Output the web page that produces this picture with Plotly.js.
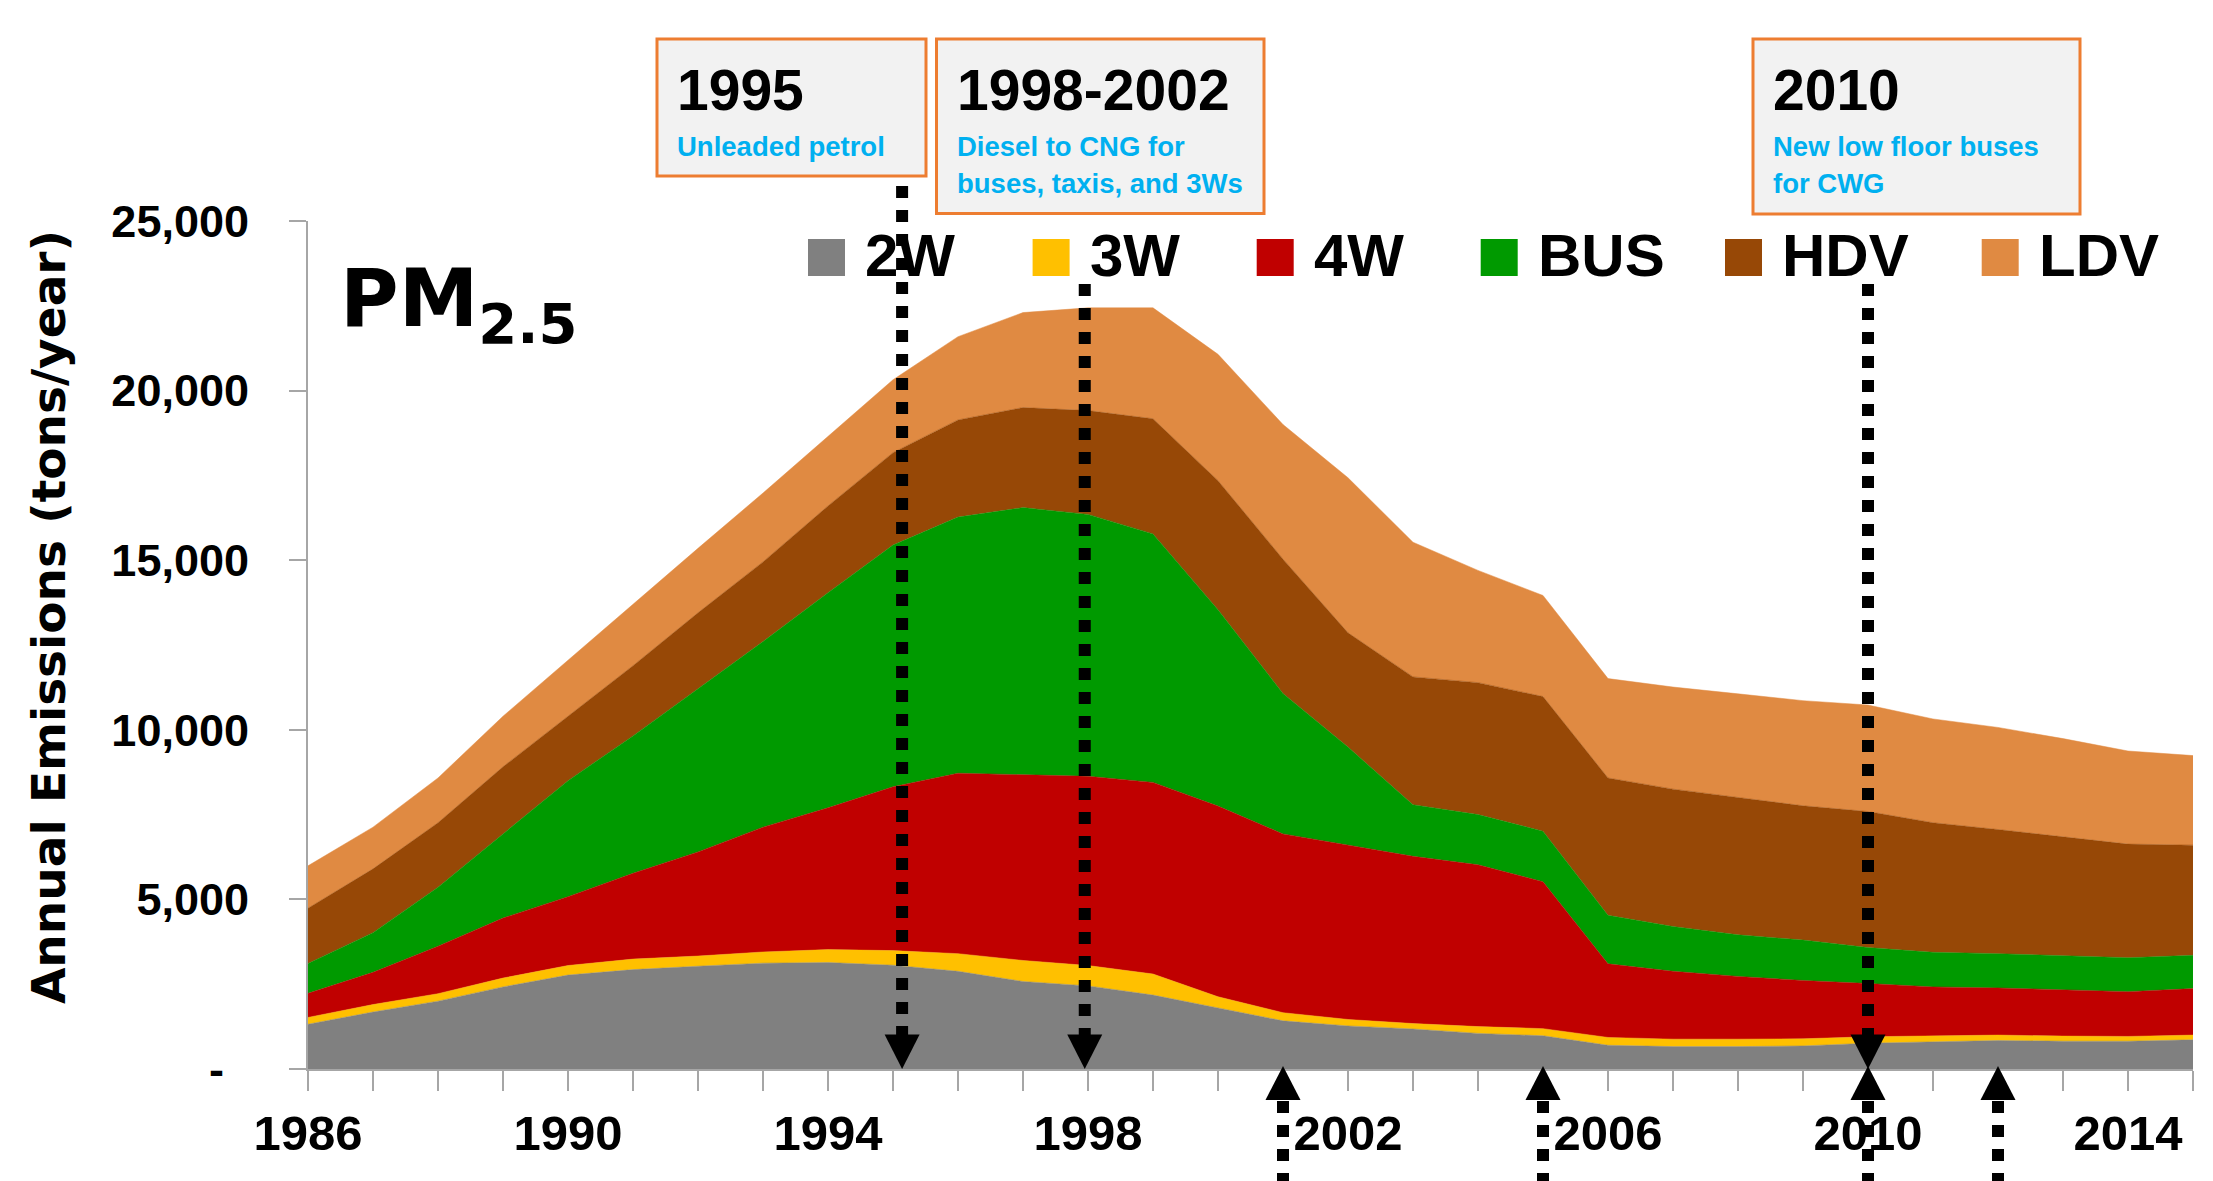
<!DOCTYPE html>
<html><head><meta charset="utf-8">
<script src="https://cdn.plot.ly/plotly-3.0.1.min.js"></script>
<style>html,body{margin:0;padding:0;background:#fff;}#chart{width:2213px;height:1181px;}</style>
</head><body><div id="chart"></div>
<script>
// ---------- data ----------
const years = [1986,1987,1988,1989,1990,1991,1992,1993,1994,1995,1996,1997,1998,1999,2000,
               2001,2002,2003,2004,2005,2006,2007,2008,2009,2010,2011,2012,2013,2014,2015];
const seriesNames = ['2W','3W','4W','BUS','HDV','LDV'];
const seriesColors = ['#808080','#FFC000','#C00000','#009A00','#974806','#E08A42'];
const emis2W  = [1320,1680,2000,2420,2770,2930,3030,3120,3140,3060,2880,2580,2450,2180,1800,
                 1420,1270,1180,1050,980,700,660,660,680,760,790,840,820,820,860];
const emis3W  = [200,220,220,260,280,310,300,330,380,430,520,620,600,620,330,
                 240,190,160,200,210,230,220,220,210,190,190,160,150,140,140];
const emis4W  = [710,950,1400,1770,2030,2530,3070,3680,4180,4830,5320,5470,5580,5650,5620,
                 5270,5140,4930,4770,4330,2170,2000,1850,1720,1570,1440,1390,1360,1320,1370];
const emisBUS = [880,1170,1740,2480,3420,4050,4800,5470,6340,7125,7550,7880,7720,7325,5790,
                 4140,2890,1520,1480,1490,1430,1320,1225,1190,1060,1020,1010,1020,1000,980];
const emisHDV = [1630,1880,1900,1980,1900,2070,2250,2350,2560,2725,2865,2950,3060,3395,3805,
                 3960,3370,3770,3890,3970,4050,4050,4050,3960,4010,3820,3660,3500,3350,3250];
const emisLDV = [1250,1230,1320,1490,1650,1820,1900,2030,2050,2150,2455,2800,3030,3270,3725,
                 3970,4570,3970,3310,2980,2930,3010,3055,3100,3140,3060,3010,2890,2745,2640];
const seriesValues = [emis2W, emis3W, emis4W, emisBUS, emisHDV, emisLDV];

const yTickValues = [0,5000,10000,15000,20000,25000];
const yTickLabels = ['-\u00a0\u00a0','5,000','10,000','15,000','20,000','25,000'];
const xLabelYears = [1986,1990,1994,1998,2002,2006,2010,2014];

const chartTitle = 'PM<sub>2.5</sub>';
const yTitle = 'Annual Emissions (tons/year)';
const noteHeads = ['1995','1998-2002','2010'];
const noteLines = [['Unleaded petrol'],['Diesel to CNG for','buses, taxis, and 3Ws'],['New low floor buses','for CWG']];
const downArrowYears = [1995.14, 1997.95, 2010];
const upArrowYears = [2001, 2005, 2010, 2012];

// ---------- geometry helpers (pixels -> paper) ----------
const W = 2213, H = 1181;
const M = {l:308, r:20, t:221, b:112};
const PW = W - M.l - M.r, PH = H - M.t - M.b;
const px2x = X => (X - M.l) / PW;
const px2y = Y => (H - M.b - Y) / PH;

const NARROW = 'Liberation Sans, Arial, sans-serif';
const WIDE = 'DejaVu Sans, Verdana, sans-serif';
const AXIS_GRAY = '#A6A6A6';

// ---------- traces ----------
const traces = seriesNames.map((name, i) => ({
  type: 'scatter', mode: 'lines', name: name,
  x: years, y: seriesValues[i], stackgroup: 'pm',
  line: {width: 0.5, color: seriesColors[i]},
  fillcolor: seriesColors[i], hoverinfo: 'skip', showlegend: false
}));

// ---------- decorations ----------
const shapes = [];
const annotations = [];

// note boxes
const boxPx = [{x0:657, x1:926, y0:39, y1:176}, {x0:936.5, x1:1264, y0:39, y1:213.5}, {x0:1753, x1:2080, y0:39, y1:214}];
boxPx.forEach((b, i) => {
  shapes.push({type:'rect', xref:'paper', yref:'paper', layer:'above',
    x0:px2x(b.x0), x1:px2x(b.x1), y0:px2y(b.y1), y1:px2y(b.y0),
    fillcolor:'#F2F2F2', line:{color:'#ED7D31', width:3}});
  const tx = px2x(b.x0 + 18);
  annotations.push({xref:'paper', yref:'paper', x:tx, y:px2y(55.5), xanchor:'left', yanchor:'top',
    showarrow:false, text:noteHeads[i], font:{family:NARROW, size:57, weight:'bold', color:'#000'}});
  noteLines[i].forEach((ln, j) => {
    annotations.push({xref:'paper', yref:'paper', x:tx, y:px2y(128.5 + j*37.5), xanchor:'left', yanchor:'top',
      showarrow:false, text:ln, font:{family:NARROW, size:27.5, weight:'bold', color:'#00B0F0'}});
  });
});

// legend (manual, Excel-like)
const legendSwatchX = [808, 1032.6, 1256.7, 1480.7, 1725, 1981.7];
seriesNames.forEach((name, i) => {
  const sx = legendSwatchX[i];
  shapes.push({type:'rect', xref:'paper', yref:'paper', layer:'above',
    x0:px2x(sx), x1:px2x(sx+37), y0:px2y(276), y1:px2y(239),
    fillcolor:seriesColors[i], line:{width:0}});
  annotations.push({xref:'paper', yref:'paper', x:px2x(sx+55), y:px2y(220), xanchor:'left', yanchor:'top',
    showarrow:false, text:name, font:{family:NARROW, size:60, weight:'bold', color:'#000'}});
});

// chart title inside plot
annotations.push({xref:'paper', yref:'paper', x:px2x(338), y:px2y(250), xanchor:'left', yanchor:'top',
  showarrow:false, text:chartTitle, font:{family:WIDE, size:80, weight:'bold', color:'#000'}});

// y-axis title (placed as rotated annotation to match the reference offset)
annotations.push({xref:'paper', yref:'paper', x:px2x(48), y:px2y(617), xanchor:'center', yanchor:'middle',
  textangle:-90, showarrow:false, text:yTitle, font:{family:WIDE, size:47, weight:'bold', color:'#000'}});

// dotted arrows
const DOT = {color:'#000', width:12, dash:'12px,12px'};
downArrowYears.forEach((yr, i) => {
  const topPx = i === 0 ? 186 : 284;
  shapes.push({type:'line', xref:'x', yref:'paper', layer:'above',
    x0:yr, x1:yr, y0:px2y(topPx), y1:px2y(1036), line:DOT});
  shapes.push({type:'path', xref:'x', yref:'paper', layer:'above',
    xsizemode:'pixel', ysizemode:'pixel', xanchor:yr, yanchor:0,
    path:'M-17.5,34.5 L17.5,34.5 L0,0 Z', fillcolor:'#000', line:{width:0}});
});
upArrowYears.forEach(yr => {
  shapes.push({type:'line', xref:'x', yref:'paper', layer:'above',
    x0:yr, x1:yr, y0:px2y(1101), y1:px2y(1181), line:DOT});
  shapes.push({type:'path', xref:'x', yref:'paper', layer:'above',
    xsizemode:'pixel', ysizemode:'pixel', xanchor:yr, yanchor:px2y(1066),
    path:'M-17.5,-34 L17.5,-34 L0,0 Z', fillcolor:'#000', line:{width:0}});
});

const layout = {
  width: W, height: H, margin: M,
  paper_bgcolor:'#fff', plot_bgcolor:'#fff', showlegend:false,
  xaxis: {
    range:[1986, 2015], showgrid:false, zeroline:false,
    showline:true, linecolor:AXIS_GRAY, linewidth:2,
    ticks:'outside', ticklen:20, tickwidth:2, tickcolor:AXIS_GRAY,
    tickmode:'array', tickvals:xLabelYears, ticktext:xLabelYears.map(String),
    minor:{tickmode:'linear', tick0:1986, dtick:1, ticks:'outside', ticklen:20, tickwidth:2, tickcolor:AXIS_GRAY, showgrid:false},
    tickfont:{family:NARROW, size:49, weight:'bold', color:'#000'},
    ticklabelstandoff:0
  },
  yaxis: {
    range:[0, 25000], showgrid:false, zeroline:false,
    showline:true, linecolor:AXIS_GRAY, linewidth:2,
    ticks:'outside', ticklen:17, tickwidth:2, tickcolor:AXIS_GRAY,
    tickmode:'array', tickvals:yTickValues, ticktext:yTickLabels,
    tickfont:{family:NARROW, size:45, weight:'bold', color:'#000'},
    ticklabelstandoff:31
  },
  shapes: shapes,
  annotations: annotations
};

Plotly.newPlot('chart', traces, layout, {displayModeBar:false, staticPlot:true});
</script>
</body></html>
